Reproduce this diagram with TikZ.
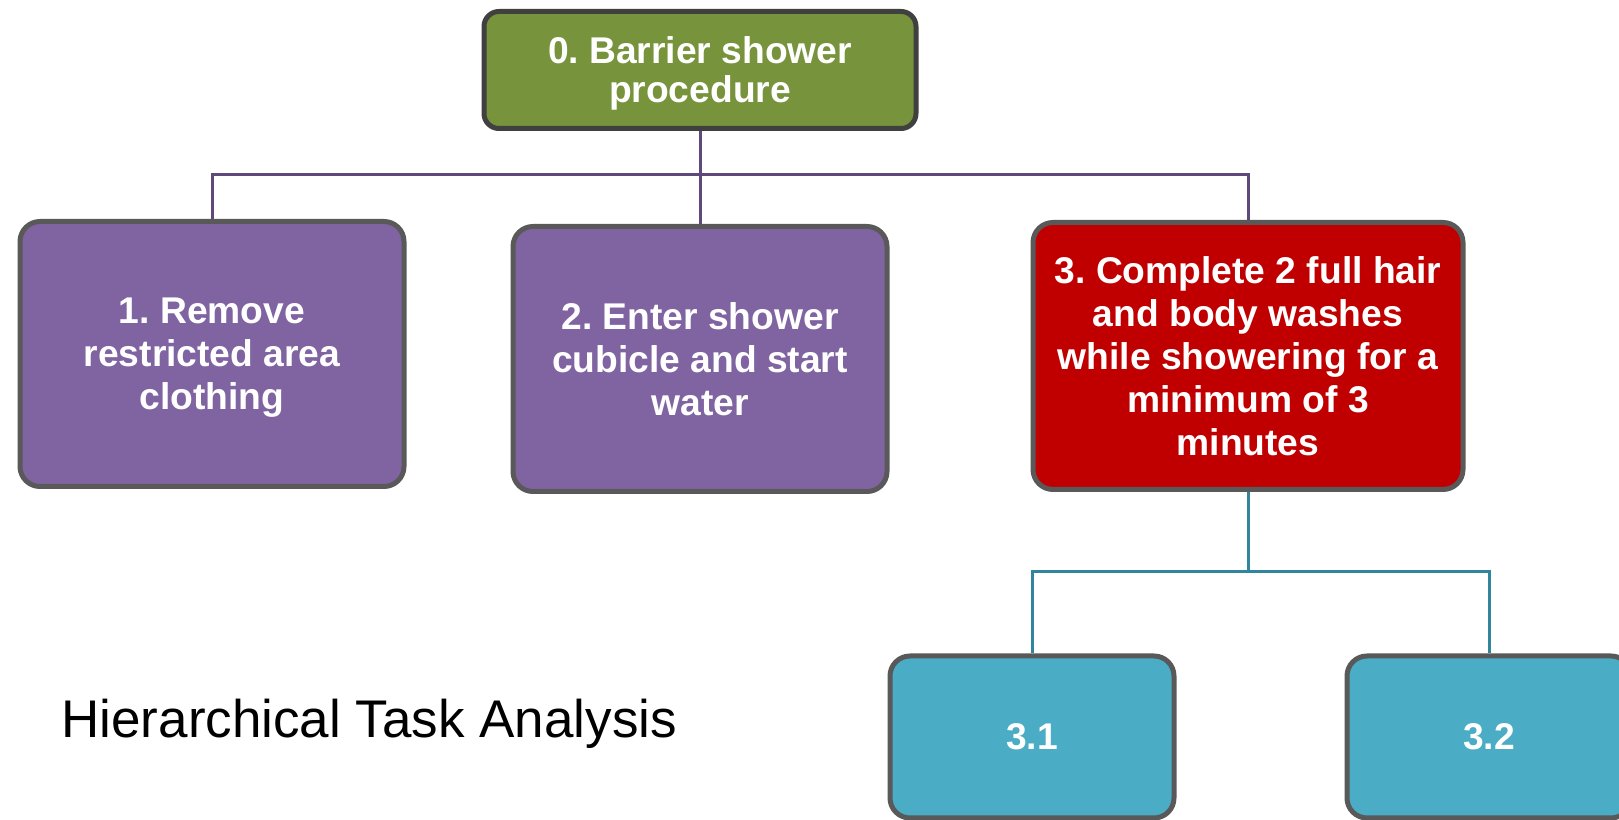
\documentclass[tikz,border=0pt]{standalone}
\usepackage{fontspec}
\setmainfont{Liberation Sans}
\usepackage{xcolor}
\usetikzlibrary{backgrounds}
\frenchspacing

\definecolor{htagreen}{HTML}{77933C}
\definecolor{htapurple}{HTML}{8064A2}
\definecolor{htared}{HTML}{C00000}
\definecolor{htateal}{HTML}{4BACC6}
\definecolor{htaborder}{HTML}{595959}
\definecolor{htaplink}{HTML}{5F497A}
\definecolor{htatlink}{HTML}{31859C}

\begin{document}
\begin{tikzpicture}[
    x=0.5pt, y=0.5pt,
    taskbox/.style={draw=htaborder,line width=2.5pt,rounded corners=10pt,
                    align=center,text=white,inner sep=2pt,text depth=0pt,
                    font=\fontsize{18.6}{21.5}\selectfont\bfseries},
    rootbox/.style={taskbox,fill=htagreen,draw=black!75,rounded corners=7.5pt,
                    minimum width=216pt,minimum height=58.5pt,
                    font=\fontsize{18.6}{19.5}\selectfont\bfseries},
    subbox/.style={taskbox,fill=htapurple,minimum height=132.5pt},
    focusbox/.style={taskbox,fill=htared,minimum width=215pt,minimum height=133.5pt},
    leafbox/.style={taskbox,fill=htateal,minimum width=142pt,minimum height=81pt},
    plink/.style={htaplink,line width=1.5pt},
    tlink/.style={htatlink,line width=1.5pt},
  ]

  % page frame (the leaf boxes run off the bottom/right edge)
  \useasboundingbox (0,0) rectangle (1619,820);
  \clip (0,0) rectangle (1619,820);

  % --- level 0 ---
  \node[rootbox] (t0) at (700,750) {0. Barrier shower\\procedure};

  % --- level 1 ---
  \node[subbox,minimum width=192pt] (t1) at (212,466)
    {1. Remove\\restricted area\\clothing};
  \node[subbox,minimum width=187pt] (t2) at (700,461)
    {2. Enter shower\\cubicle and start\\water};
  \node[focusbox] (t3) at (1248,464)
    {3. Complete 2 full hair\\and body washes\\while showering for a\\minimum of 3\\minutes};

  % --- level 2 (under step 3) ---
  \node[leafbox] (t31) at (1032,83) {3.1};
  \node[leafbox] (t32) at (1489,83) {3.2};

  % --- title ---
  \node[anchor=base west,inner sep=0pt,font=\fontsize{26.5}{30}\selectfont]
    (title) at (61,82) {Hierarchical Task Analysis};

  % --- connectors, kept behind the boxes ---
  \begin{scope}[on background layer]
    \coordinate (pbus) at (700,645);
    \draw[plink] (t0.south) -- (pbus);
    \draw[plink] (t1.north) |- (pbus) -| (t3.north);
    \draw[plink] (pbus) -- (t2.north);

    \coordinate (tbus) at (1248,248);
    \draw[tlink] (t3.south) -- (tbus);
    \draw[tlink] (t31.north) |- (tbus) -| (t32.north);
  \end{scope}

\end{tikzpicture}
\end{document}
